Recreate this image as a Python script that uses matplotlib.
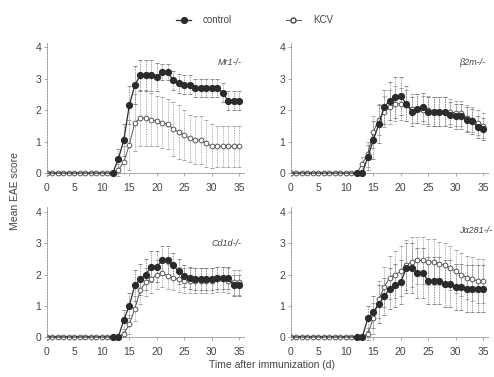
import numpy as np
import matplotlib.pyplot as plt
from matplotlib.lines import Line2D

plt.rcParams['font.family'] = ['Liberation Sans', 'DejaVu Sans']

days = list(range(36))

# Mr1-/-
mr1_ctrl = [0, 0, 0, 0, 0, 0, 0, 0, 0, 0, 0, 0, 0, 0.45, 1.05, 2.15, 2.8, 3.1, 3.1, 3.1,
            3.05, 3.2, 3.2, 2.95, 2.85, 2.8, 2.8, 2.7, 2.7, 2.7, 2.7, 2.7, 2.55, 2.3, 2.3, 2.3]
mr1_ctrl_sd = [0, 0, 0, 0, 0, 0, 0, 0, 0, 0, 0, 0, 0, 0.3, 0.5, 0.6, 0.6, 0.5, 0.5, 0.5,
               0.45, 0.25, 0.25, 0.3, 0.3, 0.3, 0.3, 0.3, 0.3, 0.3, 0.3, 0.3, 0.3, 0.3, 0.3, 0.3]
mr1_kcv = [0, 0, 0, 0, 0, 0, 0, 0, 0, 0, 0, 0, 0, 0.1, 0.35, 0.9, 1.6, 1.75, 1.75, 1.7,
           1.65, 1.6, 1.55, 1.4, 1.3, 1.2, 1.1, 1.05, 1.05, 0.95, 0.85, 0.85, 0.85, 0.85, 0.85, 0.85]
mr1_kcv_sd = [0, 0, 0, 0, 0, 0, 0, 0, 0, 0, 0, 0, 0, 0.2, 0.5, 0.8, 0.9, 0.9, 0.9, 0.85,
              0.8, 0.8, 0.8, 0.85, 0.85, 0.8, 0.75, 0.75, 0.75, 0.75, 0.7, 0.65, 0.65, 0.65, 0.65, 0.65]

# b2m-/-
b2m_ctrl = [0, 0, 0, 0, 0, 0, 0, 0, 0, 0, 0, 0, 0, 0, 0.5, 1.05, 1.55, 2.1, 2.3, 2.4,
            2.45, 2.2, 1.95, 2.05, 2.1, 1.95, 1.95, 1.95, 1.95, 1.85, 1.8, 1.8, 1.7, 1.65, 1.45, 1.4]
b2m_ctrl_sd = [0, 0, 0, 0, 0, 0, 0, 0, 0, 0, 0, 0, 0, 0, 0.4, 0.6, 0.6, 0.55, 0.6, 0.65,
               0.6, 0.55, 0.45, 0.45, 0.45, 0.45, 0.45, 0.45, 0.45, 0.4, 0.4, 0.4, 0.4, 0.4, 0.35, 0.35]
b2m_kcv = [0, 0, 0, 0, 0, 0, 0, 0, 0, 0, 0, 0, 0, 0.3, 0.6, 1.3, 1.7, 1.95, 2.1, 2.2,
           2.2, 2.15, 2.05, 2.05, 2.0, 2.0, 1.95, 1.95, 1.95, 1.95, 1.9, 1.9, 1.75, 1.7, 1.6, 1.5]
b2m_kcv_sd = [0, 0, 0, 0, 0, 0, 0, 0, 0, 0, 0, 0, 0, 0.2, 0.4, 0.5, 0.5, 0.5, 0.55, 0.55,
              0.5, 0.5, 0.45, 0.45, 0.45, 0.45, 0.45, 0.45, 0.45, 0.4, 0.4, 0.4, 0.4, 0.4, 0.4, 0.4]

# Cd1d-/-
cd1d_ctrl = [0, 0, 0, 0, 0, 0, 0, 0, 0, 0, 0, 0, 0, 0, 0.55, 1.0, 1.65, 1.85, 2.0, 2.25,
             2.25, 2.45, 2.45, 2.3, 2.1, 1.95, 1.9, 1.85, 1.85, 1.85, 1.85, 1.9, 1.9, 1.9, 1.65, 1.65]
cd1d_ctrl_sd = [0, 0, 0, 0, 0, 0, 0, 0, 0, 0, 0, 0, 0, 0, 0.3, 0.4, 0.5, 0.5, 0.5, 0.5,
                0.5, 0.45, 0.45, 0.4, 0.4, 0.35, 0.35, 0.35, 0.35, 0.35, 0.35, 0.35, 0.35, 0.35, 0.35, 0.35]
cd1d_kcv = [0, 0, 0, 0, 0, 0, 0, 0, 0, 0, 0, 0, 0, 0, 0.1, 0.4, 0.9, 1.5, 1.75, 1.85,
            2.0, 2.05, 1.95, 1.9, 1.85, 1.8, 1.8, 1.8, 1.8, 1.8, 1.8, 1.85, 1.85, 1.8, 1.75, 1.75]
cd1d_kcv_sd = [0, 0, 0, 0, 0, 0, 0, 0, 0, 0, 0, 0, 0, 0, 0.1, 0.3, 0.4, 0.45, 0.45, 0.45,
               0.45, 0.45, 0.4, 0.4, 0.4, 0.4, 0.4, 0.4, 0.4, 0.4, 0.4, 0.4, 0.4, 0.4, 0.4, 0.4]

# Ja281-/-
ja_ctrl = [0, 0, 0, 0, 0, 0, 0, 0, 0, 0, 0, 0, 0, 0, 0.6, 0.8, 1.05, 1.3, 1.55, 1.65,
           1.75, 2.2, 2.2, 2.05, 2.05, 1.8, 1.8, 1.8, 1.7, 1.7, 1.6, 1.6, 1.55, 1.55, 1.55, 1.55]
ja_ctrl_sd = [0, 0, 0, 0, 0, 0, 0, 0, 0, 0, 0, 0, 0, 0, 0.4, 0.5, 0.6, 0.6, 0.65, 0.7,
              0.7, 0.8, 0.8, 0.8, 0.8, 0.75, 0.75, 0.75, 0.75, 0.75, 0.75, 0.75, 0.75, 0.75, 0.75, 0.75]
ja_kcv = [0, 0, 0, 0, 0, 0, 0, 0, 0, 0, 0, 0, 0, 0, 0.1, 0.6, 1.2, 1.6, 1.9, 2.0,
          2.1, 2.3, 2.4, 2.45, 2.45, 2.4, 2.4, 2.35, 2.3, 2.2, 2.1, 2.0, 1.9, 1.85, 1.8, 1.8]
ja_kcv_sd = [0, 0, 0, 0, 0, 0, 0, 0, 0, 0, 0, 0, 0, 0, 0.2, 0.5, 0.6, 0.65, 0.7, 0.75,
             0.8, 0.8, 0.8, 0.75, 0.75, 0.75, 0.75, 0.7, 0.7, 0.7, 0.7, 0.7, 0.7, 0.7, 0.7, 0.7]

panel_names = ['Mr1-/-', 'β2m-/-', 'Cd1d-/-', 'Jα281-/-']
xticks = [0, 5, 10, 15, 20, 25, 30, 35]
yticks = [0, 1, 2, 3, 4]

panels = [(mr1_ctrl, mr1_ctrl_sd, mr1_kcv, mr1_kcv_sd),
          (b2m_ctrl, b2m_ctrl_sd, b2m_kcv, b2m_kcv_sd),
          (cd1d_ctrl, cd1d_ctrl_sd, cd1d_kcv, cd1d_kcv_sd),
          (ja_ctrl, ja_ctrl_sd, ja_kcv, ja_kcv_sd)]

# axes rectangles in figure fraction
rects = [[0.0951, 0.5326, 0.400, 0.355],
         [0.589, 0.5326, 0.400, 0.355],
         [0.0951, 0.0979, 0.400, 0.352],
         [0.589, 0.0979, 0.400, 0.352]]
label_pos = [(35.5, 3.5), (35.5, 3.5), (35.5, 3.0), (36.6, 3.4)]

ink = '#2b2b2b'
soft = '#8a8a8a'

fig = plt.figure(figsize=(4.94, 3.77), dpi=100)

def draw_err(ax, x, y, e, col):
    x = np.asarray(x); y = np.asarray(y); e = np.asarray(e)
    m = e > 0
    _, caps, bars = ax.errorbar(x[m], y[m], yerr=e[m], fmt='none', ecolor=col,
                                elinewidth=0.6, capsize=1.3, capthick=0.6, zorder=1)
    for b in bars:
        b.set_linestyle((0, (1, 1)))

for i, (ctrl, ctrl_sd, kcv, kcv_sd) in enumerate(panels):
    ax = fig.add_axes(rects[i])
    draw_err(ax, days, kcv, kcv_sd, '#9a9a9a')
    draw_err(ax, days, ctrl, ctrl_sd, '#7a7a7a')
    # control markers hidden on the pre-onset baseline, as in the scan
    first = 12
    ax.plot(days, ctrl, '-o', color=ink, lw=0.9, ms=4.2, mfc=ink, mec=ink, zorder=4,
            markevery=list(range(first, len(days))))
    ax.plot(days, kcv, '-o', color='#555555', lw=0.7, ms=3.4, mfc='white',
            mec='#555555', mew=0.7, zorder=3)
    ax.set_xlim(0, 36)
    ax.set_ylim(-0.1, 4.15)
    ax.spines['top'].set_visible(False)
    ax.spines['right'].set_visible(False)
    ax.spines['bottom'].set_position(('data', 0))
    for s in ['left', 'bottom']:
        ax.spines[s].set_color(soft)
        ax.spines[s].set_linewidth(0.6)
        ax.spines[s].set_linestyle((0, (2, 1.5)))
    ax.set_xticks(xticks)
    ax.set_yticks(yticks)
    ax.tick_params(axis='both', labelsize=7.5, colors=soft, labelcolor='#444444',
                   length=2, width=0.5, pad=2)
    ax.tick_params(axis='x', pad=5)
    ax.text(label_pos[i][0], label_pos[i][1], panel_names[i], ha='right', va='center',
            fontsize=6.5, style='italic', color='#444444', clip_on=False)

handles = [Line2D([], [], color=ink, marker='o', ms=4.2, lw=0.9, mfc=ink, mec=ink),
           Line2D([], [], color='#555555', marker='o', ms=3.6, lw=0.7, mfc='white', mec='#444444')]
fig.legend(handles, ['control', 'KCV'], loc='center', bbox_to_anchor=(0.515, 0.947),
           ncol=2, frameon=False, fontsize=7, handlelength=1.6, columnspacing=5.5,
           handletextpad=1.2, labelcolor='#444444')

fig.text(0.03, 0.493, 'Mean EAE score', rotation=90, ha='center', va='center',
         fontsize=7.5, color='#444444')
fig.text(0.55, 0.032, 'Time after immunization (d)', ha='center', va='center',
         fontsize=7.5, color='#444444')

fig.savefig('out.png', dpi=100)
